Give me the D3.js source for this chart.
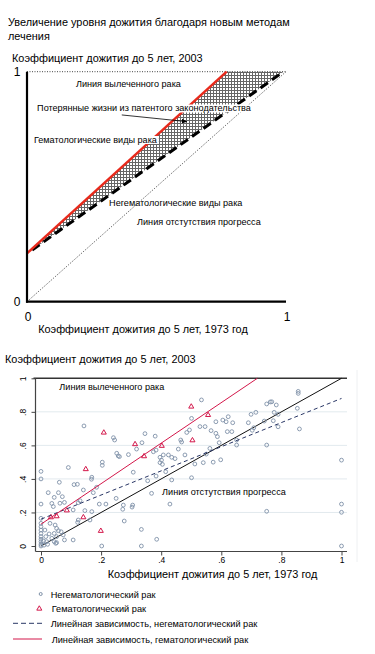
<!DOCTYPE html>
<html><head><meta charset="utf-8">
<script src="https://cdn.jsdelivr.net/npm/d3@7"></script>
<style>body{margin:0;background:#fff}svg{display:block}text{font-family:"Liberation Sans",Arial,sans-serif;fill:#000}</style>
</head><body><svg id="c" width="375" height="654"></svg>
<script>
// ---------- DATA ----------
const titleLines = ["Увеличение уровня дожития благодаря новым методам", "лечения"];
const yTitle = "Коэффициент дожития до 5 лет, 2003";
const xTitle = "Коэффициент дожития до 5 лет, 1973 год";

// schematic (top) lines, [x, y] in survival-rate units
const schemaCured = [[0, 1], [1, 1]];
const schemaNoProgress = [[0, 0], [1, 1]];
const schemaHeme = [[0, 0.21], [0.771, 1]];
const schemaNonHeme = [[0.02, 0.225], [0.99, 1]];
const schemaTicks = [0, 1];
const schemaLabels = [
  {t: "Линия вылеченного рака", x: 0.189, y: 0.933, bg: false},
  {t: "Потерянные жизни из патентого законодательства", x: 0.039, y: 0.827, bg: true},
  {t: "Гематологические виды рака", x: 0.027, y: 0.69, bg: true},
  {t: "Негематологические виды рака", x: 0.317, y: 0.415, bg: false},
  {t: "Линия отстутствия прогресса", x: 0.425, y: 0.332, bg: false}
];
const schemaArrow = [[0.366, 0.812], [0.617, 0.783]];

// scatter (bottom)
const nonHemePoints = [
  [0.143,0.716],[0.241,0.646],[0.245,0.632],[0.252,0.553],[0.261,0.533],[0.204,0.500],[0.204,0.481],
  [0.091,0.468],[0.318,0.578],[0.336,0.616],[0.346,0.670],[0.380,0.655],[0.374,0.562],[0.383,0.572],
  [0.396,0.529],[0.401,0.512],[0.396,0.497],[0.404,0.487],[0.424,0.543],[0.435,0.529],[0.446,0.521],
  [0.457,0.578],[0.465,0.632],[0.468,0.620],[0.485,0.677],[0.494,0.692],[0.479,0.543],[0.501,0.761],
  [0.534,0.871],[0.512,0.489],[0.540,0.497],[0.573,0.500],[0.550,0.548],[0.562,0.582],[0.582,0.672],
  [0.587,0.652],[0.593,0.616],[0.529,0.712],[0.546,0.712],[0.566,0.688],[0.582,0.741],[0.605,0.751],
  [0.616,0.741],[0.623,0.771],[0.638,0.735],[0.620,0.682],[0.635,0.682],[0.598,0.514],[0.651,0.602],
  [0.651,0.632],[0.690,0.735],[0.699,0.785],[0.703,0.690],[0.708,0.705],[0.715,0.797],[0.743,0.745],
  [0.751,0.847],[0.751,0.602],[0.763,0.859],[0.768,0.860],[0.773,0.747],[0.776,0.797],[0.783,0.841],
  [0.789,0.785],[0.789,0.711],[0.853,0.821],[0.856,0.922],[0.856,0.910],[0.860,0.698],[1.0,0.512],
  [0.501,0.407],[0.435,0.394],[0.429,0.250],[0.407,0.543],[0.415,0.443],[0.383,0.417],[0.355,0.389],
  [0.368,0.314],[0.307,0.440],[0.291,0.545],[0.257,0.537],[0.274,0.244],[0.272,0.219],[0.277,0.149],
  [0.305,0.244],[0.303,0.232],[0.250,0.284],[0.216,0.250],[0.169,0.410],[0.168,0.398],[0.185,0.350],
  [0.174,0.318],[0.141,0.334],[0.121,0.368],[0.110,0.366],[0.061,0.380],[0.058,0.318],[0.024,0.318],
  [0,0.445],[0,0.400],[0,0.250],[0,0.165],[0.041,0.235],[0.044,0.290],[0.036,0.254],[0.063,0.255],
  [0.078,0.260],[0.071,0.294],[0.107,0.215],[0.124,0.258],[0.146,0.211],[0.169,0.205],[0.130,0.270],
  [0.122,0.141],[0.124,0.155],[0.163,0.155],[0.194,0.250],[0.202,0],[0.107,0.036],[0.052,0.020],
  [0.334,0],[0.334,0.099],[0.385,0.040],[1.0,0.250],[1.0,0.201],[1.0,0],[0.751,0.207],
  [0,0.135],[0,0.115],[0,0.095],[0,0.075],[0,0.056],[0,0.040],[0,0.026],[0,0.010],[0,0],
  [0.013,0.095],[0.016,0.056],[0.019,0.026],[0.027,0.072],[0.036,0.046],[0.044,0.026],[0.030,0.135],
  [0.047,0.125],[0.052,0.105],[0.058,0.091],[0.044,0.075],[0.067,0.085],[0.052,0.056],[0.074,0.066],
  [0.078,0.036],[0.049,0.016],[0.010,0.005],[0.022,0.010],[0.008,0.030]
];
const hemePoints = [
  [0.209,0.676],[0.313,0.607],[0.343,0.535],[0.402,0.597],[0.500,0.831],[0.504,0.630],[0.556,0.781],
  [0.149,0.458],[0.033,0.171],[0.052,0.177],[0.086,0.212],[0.141,0.171],[0.199,0.090]
];
const hemeFit = [[0, 0.13], [0.72, 1.0]];
const nonHemeFit = [[0, 0.16], [1, 0.88]];
const noProgress = [[0, 0], [1, 1]];
const scatterTicks = [0, 0.2, 0.4, 0.6, 0.8, 1];
const scatterLabels = [
  {t: "Линия вылеченного рака", x: 0.061, y: 0.933},
  {t: "Линия отстутствия прогресса", x: 0.403, y: 0.304}
];
const legendItems = [
  {t: "Негематологический рак", kind: "circle"},
  {t: "Гематологический рак", kind: "triangle"},
  {t: "Линейная зависимость, негематологический рак", kind: "dash"},
  {t: "Линейная зависимость, гематологический рак", kind: "line"}
];

// ---------- DRAW ----------
const svg = d3.select("#c");
const TFS = 10.9, LFS = 9.1;
const colCircle = "#7f91a8", colRed = "#d3174a", colNavy = "#2a3766";

// hatch pattern
const defs = svg.append("defs");
const pat = defs.append("pattern").attr("id","hatch").attr("patternUnits","userSpaceOnUse")
  .attr("width",3).attr("height",3);
pat.append("rect").attr("width",3).attr("height",3).attr("fill","#fff");
pat.append("rect").attr("width",3).attr("height",1).attr("fill","#666");
pat.append("rect").attr("width",1).attr("height",3).attr("fill","#666");
defs.append("marker").attr("id","arr").attr("viewBox","0 0 10 10").attr("refX",9).attr("refY",5)
  .attr("markerWidth",7).attr("markerHeight",7).attr("orient","auto")
  .append("path").attr("d","M0,1 L10,5 L0,9 Z").attr("fill","#000");

// title
svg.append("text").attr("x",8).attr("y",26).attr("font-size",TFS)
  .selectAll("tspan").data(titleLines).join("tspan")
  .attr("x",8).attr("dy",(d,i)=> i ? 13.5 : 0).text(d=>d);

// ---- top schematic ----
const xs1 = d3.scaleLinear([0,1],[27,286]);
const ys1 = d3.scaleLinear([0,1],[301.7,71.7]);
const line1 = d3.line().x(d=>xs1(d[0])).y(d=>ys1(d[1]));
const g1 = svg.append("g");

svg.append("text").attr("x",12).attr("y",62).attr("font-size",TFS).text(yTitle);

const hatchPoly = [schemaHeme[0], schemaHeme[1], schemaNonHeme[1], schemaNonHeme[0]];
g1.append("path").attr("d", line1(hatchPoly)+"Z").attr("fill","url(#hatch)");

g1.append("path").attr("d",line1(schemaCured)).attr("stroke","#444").attr("stroke-width",1)
  .attr("stroke-dasharray","1,1.5").attr("fill","none");
g1.append("path").attr("d",line1(schemaNoProgress)).attr("stroke","#444").attr("stroke-width",1)
  .attr("stroke-dasharray","1,1.5").attr("fill","none");
g1.append("path").attr("d",line1(schemaNonHeme)).attr("stroke","#000").attr("stroke-width",3)
  .attr("stroke-dasharray","9,5").attr("fill","none");
g1.append("path").attr("d",line1(schemaHeme)).attr("stroke","#e82a1c").attr("stroke-width",2.5)
  .attr("fill","none");

g1.append("line").attr("x1",xs1(0)).attr("x2",xs1(0)).attr("y1",ys1(1)).attr("y2",ys1(0)+1)
  .attr("stroke","#000").attr("stroke-width",2.2);
g1.append("line").attr("x1",xs1(0)-1).attr("x2",xs1(1)).attr("y1",ys1(0)).attr("y2",ys1(0))
  .attr("stroke","#000").attr("stroke-width",2.2);
g1.selectAll(".ylab").data(schemaTicks).join("text").attr("x",17).attr("y",d=>ys1(d)+4.5)
  .attr("text-anchor","middle").attr("font-size",12).text(d=>d);
g1.selectAll(".xlab").data(schemaTicks).join("text").attr("x",d=>xs1(d)+1).attr("y",320.5)
  .attr("text-anchor","middle").attr("font-size",12).text(d=>d);
g1.append("text").attr("x",143).attr("y",333).attr("text-anchor","middle").attr("font-size",TFS).text(xTitle);

schemaLabels.forEach(l=>{
  const t = g1.append("text").attr("x",xs1(l.x)).attr("y",ys1(l.y)).attr("font-size",LFS).text(l.t);
  if (l.bg) {
    const b = t.node().getBBox();
    g1.insert("rect", function(){ return t.node(); })
      .attr("x",b.x-1).attr("y",b.y+1).attr("width",b.width+2).attr("height",b.height-2).attr("fill","#fff");
  }
});
g1.append("path").attr("d",line1(schemaArrow)).attr("stroke","#000").attr("stroke-width",0.8)
  .attr("marker-end","url(#arr)");

// ---- bottom scatter ----
const xs2 = d3.scaleLinear([0,1],[41,341.5]);
const ys2 = d3.scaleLinear([0,1],[546,378.3]);
const line2 = d3.line().x(d=>xs2(d[0])).y(d=>ys2(d[1]));
const g2 = svg.append("g");
const L = 35.5, R = 347, B = 551.5;

g2.append("line").attr("x1",357).attr("x2",357).attr("y1",370).attr("y2",562).attr("stroke","#eef0f2");
svg.append("text").attr("x",5).attr("y",363).attr("font-size",TFS).text(yTitle);

g2.selectAll(".grid").data(scatterTicks.filter(d=>d>0 && d<1)).join("line")
  .attr("x1",L).attr("x2",R).attr("y1",d=>ys2(d)).attr("y2",d=>ys2(d))
  .attr("stroke","#e2eaee").attr("stroke-width",1);
g2.append("line").attr("x1",L-2).attr("x2",R).attr("y1",ys2(1)).attr("y2",ys2(1))
  .attr("stroke","#333").attr("stroke-width",1.6);

const fmt = d => d===0 ? "0" : d===1 ? "1" : String(d).replace(/^0/,"");
g2.append("g").attr("transform",`translate(0,${B})`)
  .call(d3.axisBottom(xs2).tickValues(scatterTicks).tickSize(4).tickFormat(fmt))
  .call(a=>{a.select(".domain").remove(); a.selectAll("line").attr("stroke","#444");
    a.selectAll("text").attr("font-size",8.5).attr("font-family","Liberation Sans, Arial").attr("fill","#222").attr("dy","0.55em");});
g2.append("g").attr("transform",`translate(${L},0)`)
  .call(d3.axisLeft(ys2).tickValues(scatterTicks).tickSize(4).tickFormat(fmt))
  .call(a=>{a.select(".domain").remove(); a.selectAll("line").attr("stroke","#444");
    a.selectAll("text").attr("font-size",8.5).attr("font-family","Liberation Sans, Arial").attr("fill","#222")
      .attr("x",0).attr("dy",0).attr("text-anchor","middle")
      .attr("transform","translate(-10,0) rotate(-90)");});
g2.append("line").attr("x1",L).attr("x2",L).attr("y1",ys2(1)).attr("y2",B).attr("stroke","#444").attr("stroke-width",1.2);
g2.append("line").attr("x1",L).attr("x2",R).attr("y1",B).attr("y2",B).attr("stroke","#444").attr("stroke-width",1.2);

g2.append("path").attr("d",line2(noProgress)).attr("stroke","#111").attr("stroke-width",1).attr("fill","none");

g2.selectAll(".pt").data(nonHemePoints).join("circle")
  .attr("cx",d=>xs2(d[0])).attr("cy",d=>ys2(d[1])).attr("r",1.9)
  .attr("fill","none").attr("stroke",colCircle).attr("stroke-width",0.9);
const tri = d3.symbol().type(d3.symbolTriangle).size(11);
g2.selectAll(".tr").data(hemePoints).join("path")
  .attr("transform",d=>`translate(${xs2(d[0])},${ys2(d[1])})`).attr("d",tri())
  .attr("fill","none").attr("stroke",colRed).attr("stroke-width",1);

g2.append("path").attr("d",line2(nonHemeFit)).attr("stroke",colNavy).attr("stroke-width",1)
  .attr("stroke-dasharray","4,3").attr("fill","none");
g2.append("path").attr("d",line2(hemeFit)).attr("stroke",colRed).attr("stroke-width",1).attr("fill","none");

scatterLabels.forEach(l=>{
  g2.append("text").attr("x",xs2(l.x)).attr("y",ys2(l.y)).attr("font-size",LFS).text(l.t);
});
svg.append("text").attr("x",212.5).attr("y",578).attr("text-anchor","middle").attr("font-size",TFS).text(xTitle);

// legend
const lg = svg.append("g");
const ly = [594, 608.7, 623.3, 639];
legendItems.forEach((it,i)=>{
  const y = ly[i];
  if (it.kind==="circle") lg.append("circle").attr("cx",40.7).attr("cy",y).attr("r",1.5)
    .attr("fill","none").attr("stroke",colCircle).attr("stroke-width",1);
  if (it.kind==="triangle") lg.append("path").attr("transform",`translate(39.3,${y})`).attr("d",tri())
    .attr("fill","none").attr("stroke",colRed).attr("stroke-width",1);
  if (it.kind==="dash") lg.append("line").attr("x1",13).attr("x2",45).attr("y1",y).attr("y2",y)
    .attr("stroke",colNavy).attr("stroke-dasharray","5,3").attr("stroke-width",1);
  if (it.kind==="line") lg.append("line").attr("x1",13).attr("x2",42).attr("y1",y).attr("y2",y)
    .attr("stroke",colRed).attr("stroke-width",1);
  lg.append("text").attr("x", i===1||i===3 ? 51.7 : 50.7).attr("y",y+3.5).attr("font-size",9.2).text(it.t);
});
</script></body></html>
